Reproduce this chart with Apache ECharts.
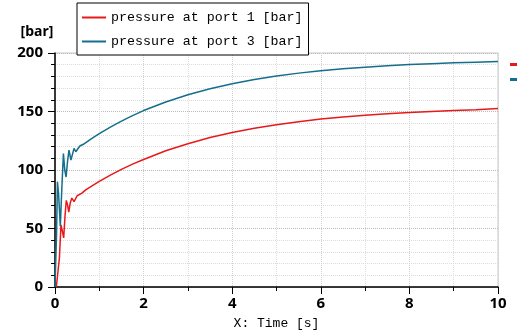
<!DOCTYPE html>
<html>
<head>
<meta charset="utf-8">
<script src="https://cdn.jsdelivr.net/npm/echarts@6/dist/echarts.min.js"></script>
<style>
  html, body { margin: 0; padding: 0; background: #fff; }
  #chart { width: 517px; height: 333px; }
</style>
</head>
<body>
<div id="chart"></div>
<script>
var seriesNames = ['pressure at port 1 [bar]', 'pressure at port 3 [bar]']
// port 1 (red)
var redT = [0.03, 0.075, 0.1, 0.135, 0.165, 0.196, 0.225, 0.255, 0.285, 0.31, 0.345, 0.38, 0.43, 0.5, 0.6, 0.7, 0.8, 1.0, 1.25, 1.5, 1.75, 2.0, 2.5, 3.0, 3.5, 4.0, 4.5, 5.0, 5.5, 6.0, 6.5, 7.0, 7.5, 8.0, 8.5, 9.0, 9.5, 10.0]
var redP = [0, 0, 25, 53, 48, 42, 60, 74, 70, 64, 72, 76, 73, 78, 80, 83.2, 85.6, 90.2, 95.6, 100.5, 105, 109, 116.4, 122.5, 127.7, 132, 135.6, 138.7, 141.3, 143.5, 145.3, 146.8, 148.1, 149.2, 150.1, 150.9, 151.6, 152.5]
// port 3 (blue)
var blueT = [0, 0.02, 0.035, 0.055, 0.08, 0.12, 0.155, 0.19, 0.22, 0.25, 0.285, 0.316, 0.36, 0.39, 0.43, 0.47, 0.51, 0.56, 0.64, 0.8, 1.0, 1.25, 1.5, 1.75, 2.0, 2.5, 3.0, 3.5, 4.0, 4.5, 5.0, 5.5, 6.0, 6.5, 7.0, 7.5, 8.0, 8.5, 9.0, 9.5, 10.0]
var blueP = [0, 0, 45, 90, 80, 52, 85, 114, 100, 94, 108, 117, 108.5, 107, 118.5, 115.6, 116, 120.5, 122, 126.2, 131, 136.7, 141.8, 146.5, 150.8, 158.1, 164.3, 169.5, 173.7, 177.3, 180.3, 182.8, 184.8, 186.5, 187.9, 189.1, 190.1, 190.9, 191.6, 192.2, 192.8]
var colors = ['#e8191a', '#146e8c']

function pairs(t, p) {
  var out = []
  for (var i = 0; i < t.length; i++) out.push([t[i], p[i]])
  return out
}

var chart = echarts.init(document.getElementById('chart'))
var labelFont = { color: '#000', fontFamily: 'Noto Sans', fontWeight: 'bold', fontSize: 15 }
var option = {
  animation: false,
  color: colors,
  grid: {
    left: 55, right: 19, top: 53, bottom: 46,
    containLabel: false, outerBoundsMode: 'none',
    show: true, borderColor: '#c8c8c8', borderWidth: 1
  },
  legend: [{
    orient: 'vertical',
    left: 77, top: 3,
    backgroundColor: '#fff',
    borderColor: '#000', borderWidth: 1, borderRadius: 0,
    padding: [8, 6, 7, 5],
    itemGap: 11,
    itemWidth: 24, itemHeight: 2,
    icon: 'rect',
    selectedMode: false,
    textStyle: { fontFamily: 'Liberation Mono', fontSize: 13.3, color: '#000' },
    data: seriesNames
  }, {
    orient: 'vertical',
    left: 505, top: 58,
    itemGap: 12,
    itemWidth: 12, itemHeight: 3,
    icon: 'rect',
    selectedMode: false,
    formatter: function () { return '' },
    data: seriesNames
  }],
  xAxis: {
    type: 'value', min: 0, max: 10, interval: 2,
    name: 'X: Time [s]', nameLocation: 'middle', nameGap: 30,
    nameTextStyle: { fontFamily: 'Liberation Mono', fontSize: 13, color: '#000' },
    axisLine: { onZero: false, lineStyle: { color: '#000', width: 1.5 } },
    axisTick: { show: true, length: 7, lineStyle: { color: '#000' } },
    minorTick: { show: true, splitNumber: 2, length: 4, lineStyle: { color: '#000' } },
    axisLabel: Object.assign({ margin: 9 }, labelFont),
    splitLine: { show: true, lineStyle: { color: '#d0d0d0', type: 'dotted' } },
    minorSplitLine: { show: true, lineStyle: { color: '#dcdcdc', type: 'dotted' } }
  },
  yAxis: {
    type: 'value', min: 0, max: 200, interval: 50,
    name: '[bar]', nameLocation: 'end', nameGap: 14,
    nameTextStyle: { fontFamily: 'Noto Sans', fontWeight: 'bold', fontSize: 14, color: '#000', padding: [0, 36, 0, 0] },
    axisLine: { show: true, lineStyle: { color: '#000', width: 1.5 } },
    axisTick: { show: true, length: 7, lineStyle: { color: '#000' } },
    minorTick: { show: true, splitNumber: 5, length: 4, lineStyle: { color: '#000' } },
    axisLabel: Object.assign({ margin: 12 }, labelFont),
    splitLine: { show: true, lineStyle: { color: '#bcbcbc', type: 'dotted' } },
    minorSplitLine: { show: true, lineStyle: { color: '#dcdcdc', type: 'dotted' } }
  },
  series: [{
    name: seriesNames[0], type: 'line', showSymbol: false,
    lineStyle: { width: 1.5 },
    data: pairs(redT, redP)
  }, {
    name: seriesNames[1], type: 'line', showSymbol: false,
    lineStyle: { width: 1.5 },
    data: pairs(blueT, blueP)
  }]
}
chart.setOption(option)
</script>
</body>
</html>
